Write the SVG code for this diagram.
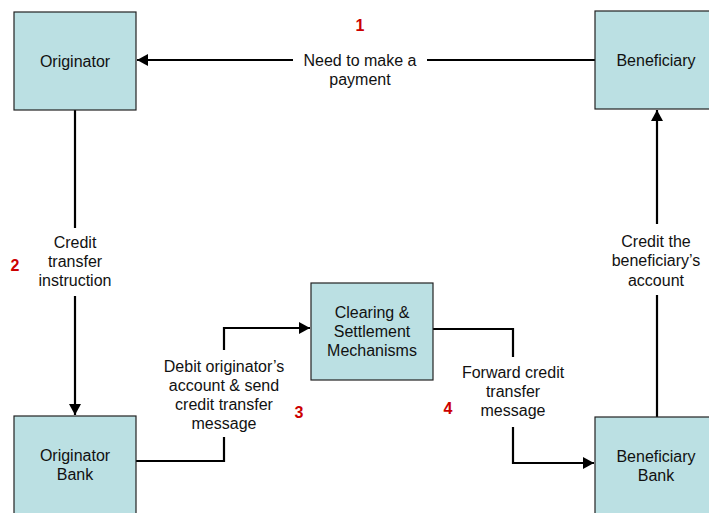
<svg xmlns="http://www.w3.org/2000/svg" width="709" height="513" viewBox="0 0 709 513">
<style>
.box{fill:#bbe0e3;stroke:#222;stroke-width:1.2}
.t{font-family:"Liberation Sans",Arial,sans-serif;font-size:16px;fill:#111;text-anchor:middle}
.n{font-family:"Liberation Sans",Arial,sans-serif;font-size:16px;font-weight:bold;fill:#cc0000;text-anchor:middle}
.c{fill:none;stroke:#000;stroke-width:2.2}
</style>
<defs>
<marker id="ah" markerUnits="userSpaceOnUse" markerWidth="12" markerHeight="12" refX="11" refY="6" orient="auto">
<path d="M0,0 L11,6 L0,12 Z" fill="#000"/>
</marker>
</defs>
<rect width="709" height="513" fill="#fff"/>
<g id="connectors">
<line class="c" x1="293" y1="60" x2="137" y2="60" marker-end="url(#ah)"/>
<line class="c" x1="595" y1="60" x2="427" y2="60"/>
<line class="c" x1="75" y1="110" x2="75" y2="228"/>
<line class="c" x1="75" y1="296" x2="75" y2="415" marker-end="url(#ah)"/>
<polyline class="c" points="136,461 224,461 224,437"/>
<polyline class="c" points="224,350 224,328 310,328" marker-end="url(#ah)"/>
<polyline class="c" points="433,329 513,329 513,357"/>
<polyline class="c" points="513,427 513,463 594,463" marker-end="url(#ah)"/>
<line class="c" x1="657" y1="417" x2="657" y2="295"/>
<line class="c" x1="657" y1="224" x2="657" y2="110" marker-end="url(#ah)"/>
</g>
<g id="labels">
<text class="n" x="360" y="31">1</text>
<text class="t" x="360" y="66">Need to make a</text>
<text class="t" x="360" y="85">payment</text>
<text class="n" x="15" y="271">2</text>
<text class="t" x="75" y="248">Credit</text>
<text class="t" x="75" y="267">transfer</text>
<text class="t" x="75" y="286">instruction</text>
<text class="t" x="224" y="372">Debit originator’s</text>
<text class="t" x="224" y="391">account &amp; send</text>
<text class="t" x="224" y="410">credit transfer</text>
<text class="t" x="224" y="429">message</text>
<text class="n" x="299" y="418">3</text>
<text class="n" x="448" y="414">4</text>
<text class="t" x="513" y="378">Forward credit</text>
<text class="t" x="513" y="397">transfer</text>
<text class="t" x="513" y="416">message</text>
<text class="t" x="656" y="247">Credit the</text>
<text class="t" x="656" y="266">beneficiary’s</text>
<text class="t" x="656" y="286">account</text>
</g>
<g id="originator">
<rect class="box" x="14" y="12" width="122" height="98"/>
<text class="t" x="75" y="67">Originator</text>
</g>
<g id="beneficiary">
<rect class="box" x="595" y="11" width="122" height="98"/>
<text class="t" x="656" y="66">Beneficiary</text>
</g>
<g id="originator-bank">
<rect class="box" x="14" y="416" width="122" height="98"/>
<text class="t" x="75" y="461">Originator</text>
<text class="t" x="75" y="480">Bank</text>
</g>
<g id="clearing">
<rect class="box" x="311" y="283" width="122" height="97"/>
<text class="t" x="372" y="318">Clearing &amp;</text>
<text class="t" x="372" y="337">Settlement</text>
<text class="t" x="372" y="356">Mechanisms</text>
</g>
<g id="beneficiary-bank">
<rect class="box" x="595" y="417" width="122" height="98"/>
<text class="t" x="656" y="462">Beneficiary</text>
<text class="t" x="656" y="481">Bank</text>
</g>
</svg>
